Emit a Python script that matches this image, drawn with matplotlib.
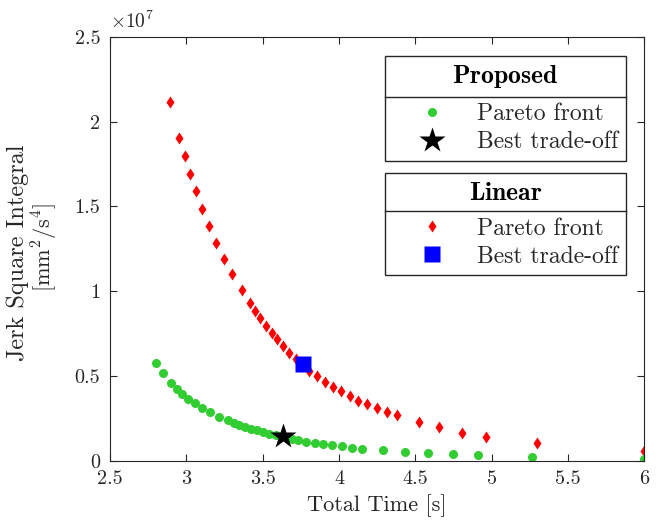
import matplotlib
matplotlib.use("Agg")
import matplotlib.pyplot as plt
from matplotlib.lines import Line2D
from matplotlib.transforms import IdentityTransform

plt.rcParams.update({
    "font.family": "serif",
    "font.serif": ["cmr10"],
    "mathtext.fontset": "cm",
    "axes.formatter.use_mathtext": True,
    "axes.unicode_minus": False,
})

# === Data (y in units of 1e7 mm^2/s^4) ===
prop_x = [2.801, 2.845, 2.900, 2.937, 2.970, 3.011, 3.057, 3.103, 3.155, 3.212,
          3.275, 3.312, 3.347, 3.384, 3.421, 3.461, 3.500, 3.544, 3.588, 3.631,
          3.690, 3.733, 3.787, 3.843, 3.897, 3.956, 4.017, 4.083, 4.148, 4.286,
          4.432, 4.586, 4.745, 4.913, 5.262, 6.000]
prop_y = [0.578, 0.516, 0.457, 0.423, 0.395, 0.366, 0.339, 0.311, 0.287, 0.260,
          0.238, 0.224, 0.211, 0.199, 0.189, 0.179, 0.169, 0.158, 0.152, 0.146,
          0.128, 0.122, 0.113, 0.104, 0.098, 0.091, 0.085, 0.077, 0.071, 0.061,
          0.051, 0.044, 0.037, 0.032, 0.022, 0.010]

lin_x = [2.893, 2.954, 2.989, 3.026, 3.065, 3.105, 3.149, 3.196, 3.247, 3.299,
         3.363, 3.417, 3.450, 3.483, 3.520, 3.559, 3.596, 3.635, 3.675, 3.718,
         3.806, 3.858, 3.910, 3.963, 4.015, 4.072, 4.124, 4.185, 4.247, 4.313,
         4.378, 4.521, 4.658, 4.808, 4.965, 5.295, 6.000]
lin_y = [2.118, 1.902, 1.796, 1.690, 1.589, 1.487, 1.386, 1.286, 1.190, 1.100,
         1.007, 0.929, 0.883, 0.840, 0.795, 0.752, 0.716, 0.677, 0.638, 0.600,
         0.531, 0.500, 0.466, 0.437, 0.409, 0.383, 0.354, 0.332, 0.309, 0.286,
         0.268, 0.228, 0.196, 0.166, 0.142, 0.103, 0.057]

prop_best = (3.631, 0.146)
lin_best = (3.762, 0.570)

x_ticks = [2.5, 3, 3.5, 4, 4.5, 5, 5.5, 6]
x_ticklabels = ["2.5", "3", "3.5", "4", "4.5", "5", "5.5", "6"]
y_ticks = [0, 0.5, 1, 1.5, 2, 2.5]
y_ticklabels = ["0", "0.5", "1", "1.5", "2", "2.5"]

AX_COLOR = "#262626"

fig = plt.figure(figsize=(6.61, 5.21), dpi=100)
ax = fig.add_axes([0.1664, 0.1157, 0.8083, 0.8133])

h_lin, = ax.plot(lin_x, lin_y, "d", color="red", ms=6.5, mec="none", ls="none")
h_prop, = ax.plot(prop_x, prop_y, "o", color="#32cd32", ms=6.5, mec="none", ls="none")
h_lbest, = ax.plot([lin_best[0]], [lin_best[1]], "s", color="blue", ms=12, mec="none", ls="none")
h_pbest, = ax.plot([prop_best[0]], [prop_best[1]], "*", color="black", ms=19, mec="none", ls="none")

ax.set_xlim(2.5, 6)
ax.set_ylim(0, 2.5)
ax.set_xticks(x_ticks)
ax.set_xticklabels(x_ticklabels)
ax.set_yticks(y_ticks)
ax.set_yticklabels(y_ticklabels)
ax.tick_params(direction="in", top=True, right=True, length=5, width=0.8,
               colors=AX_COLOR, labelsize=14.5, pad=7)
for sp in ax.spines.values():
    sp.set_color(AX_COLOR)
    sp.set_linewidth(0.8)

ax.set_xlabel("Total Time [s]", fontsize=16, color=AX_COLOR, labelpad=4)
# two-line y label, second line slightly smaller as in the original
ax.text(-0.1735, 0.490, "Jerk Square Integral", transform=ax.transAxes, rotation=90,
        ha="center", va="center", fontsize=17.5, color=AX_COLOR)
ax.text(-0.1215, 0.502, r"[mm$^2$/s$^4$]", transform=ax.transAxes, rotation=90,
        ha="center", va="center", fontsize=16, color=AX_COLOR)
ax.text(0.0, 1.012, r"$\times10^{7}$", transform=ax.transAxes, ha="left", va="bottom",
        fontsize=14, color=AX_COLOR)

leg_kw = dict(loc="upper right", borderaxespad=0, fontsize=17, title_fontsize=18.5,
              fancybox=False, framealpha=1, edgecolor=AX_COLOR, handlelength=3.3,
              handletextpad=0.25, borderpad=0.33, labelspacing=0.25)
leg1 = ax.legend([h_prop, h_pbest], ["Pareto front", "Best trade-off"],
                 title=r"$\mathbf{Proposed}$", bbox_to_anchor=(0.9657, 0.9559), **leg_kw)
ax.add_artist(leg1)
leg2 = ax.legend([h_lin, h_lbest], ["Pareto front", "Best trade-off"],
                 title=r"$\mathbf{Linear}$", bbox_to_anchor=(0.9657, 0.678), **leg_kw)
for leg in (leg1, leg2):
    leg.get_frame().set_linewidth(1.0)
    leg._legend_box.sep = 9  # extra room between title and entries
    for t in leg.get_texts():
        t.set_color(AX_COLOR)
    leg.get_title().set_color("black")

# separator line under each legend title
fig.canvas.draw()
renderer = fig.canvas.get_renderer()
for leg in (leg1, leg2):
    fb = leg.get_frame().get_window_extent(renderer)
    tb = leg.get_title().get_window_extent(renderer)
    eb = leg.get_texts()[0].get_window_extent(renderer)
    y = (tb.y0 + eb.y1) / 2
    fig.add_artist(Line2D([fb.x0, fb.x1], [y, y], transform=IdentityTransform(),
                          color=AX_COLOR, lw=1.0))

fig.savefig("out.png", dpi=100)
